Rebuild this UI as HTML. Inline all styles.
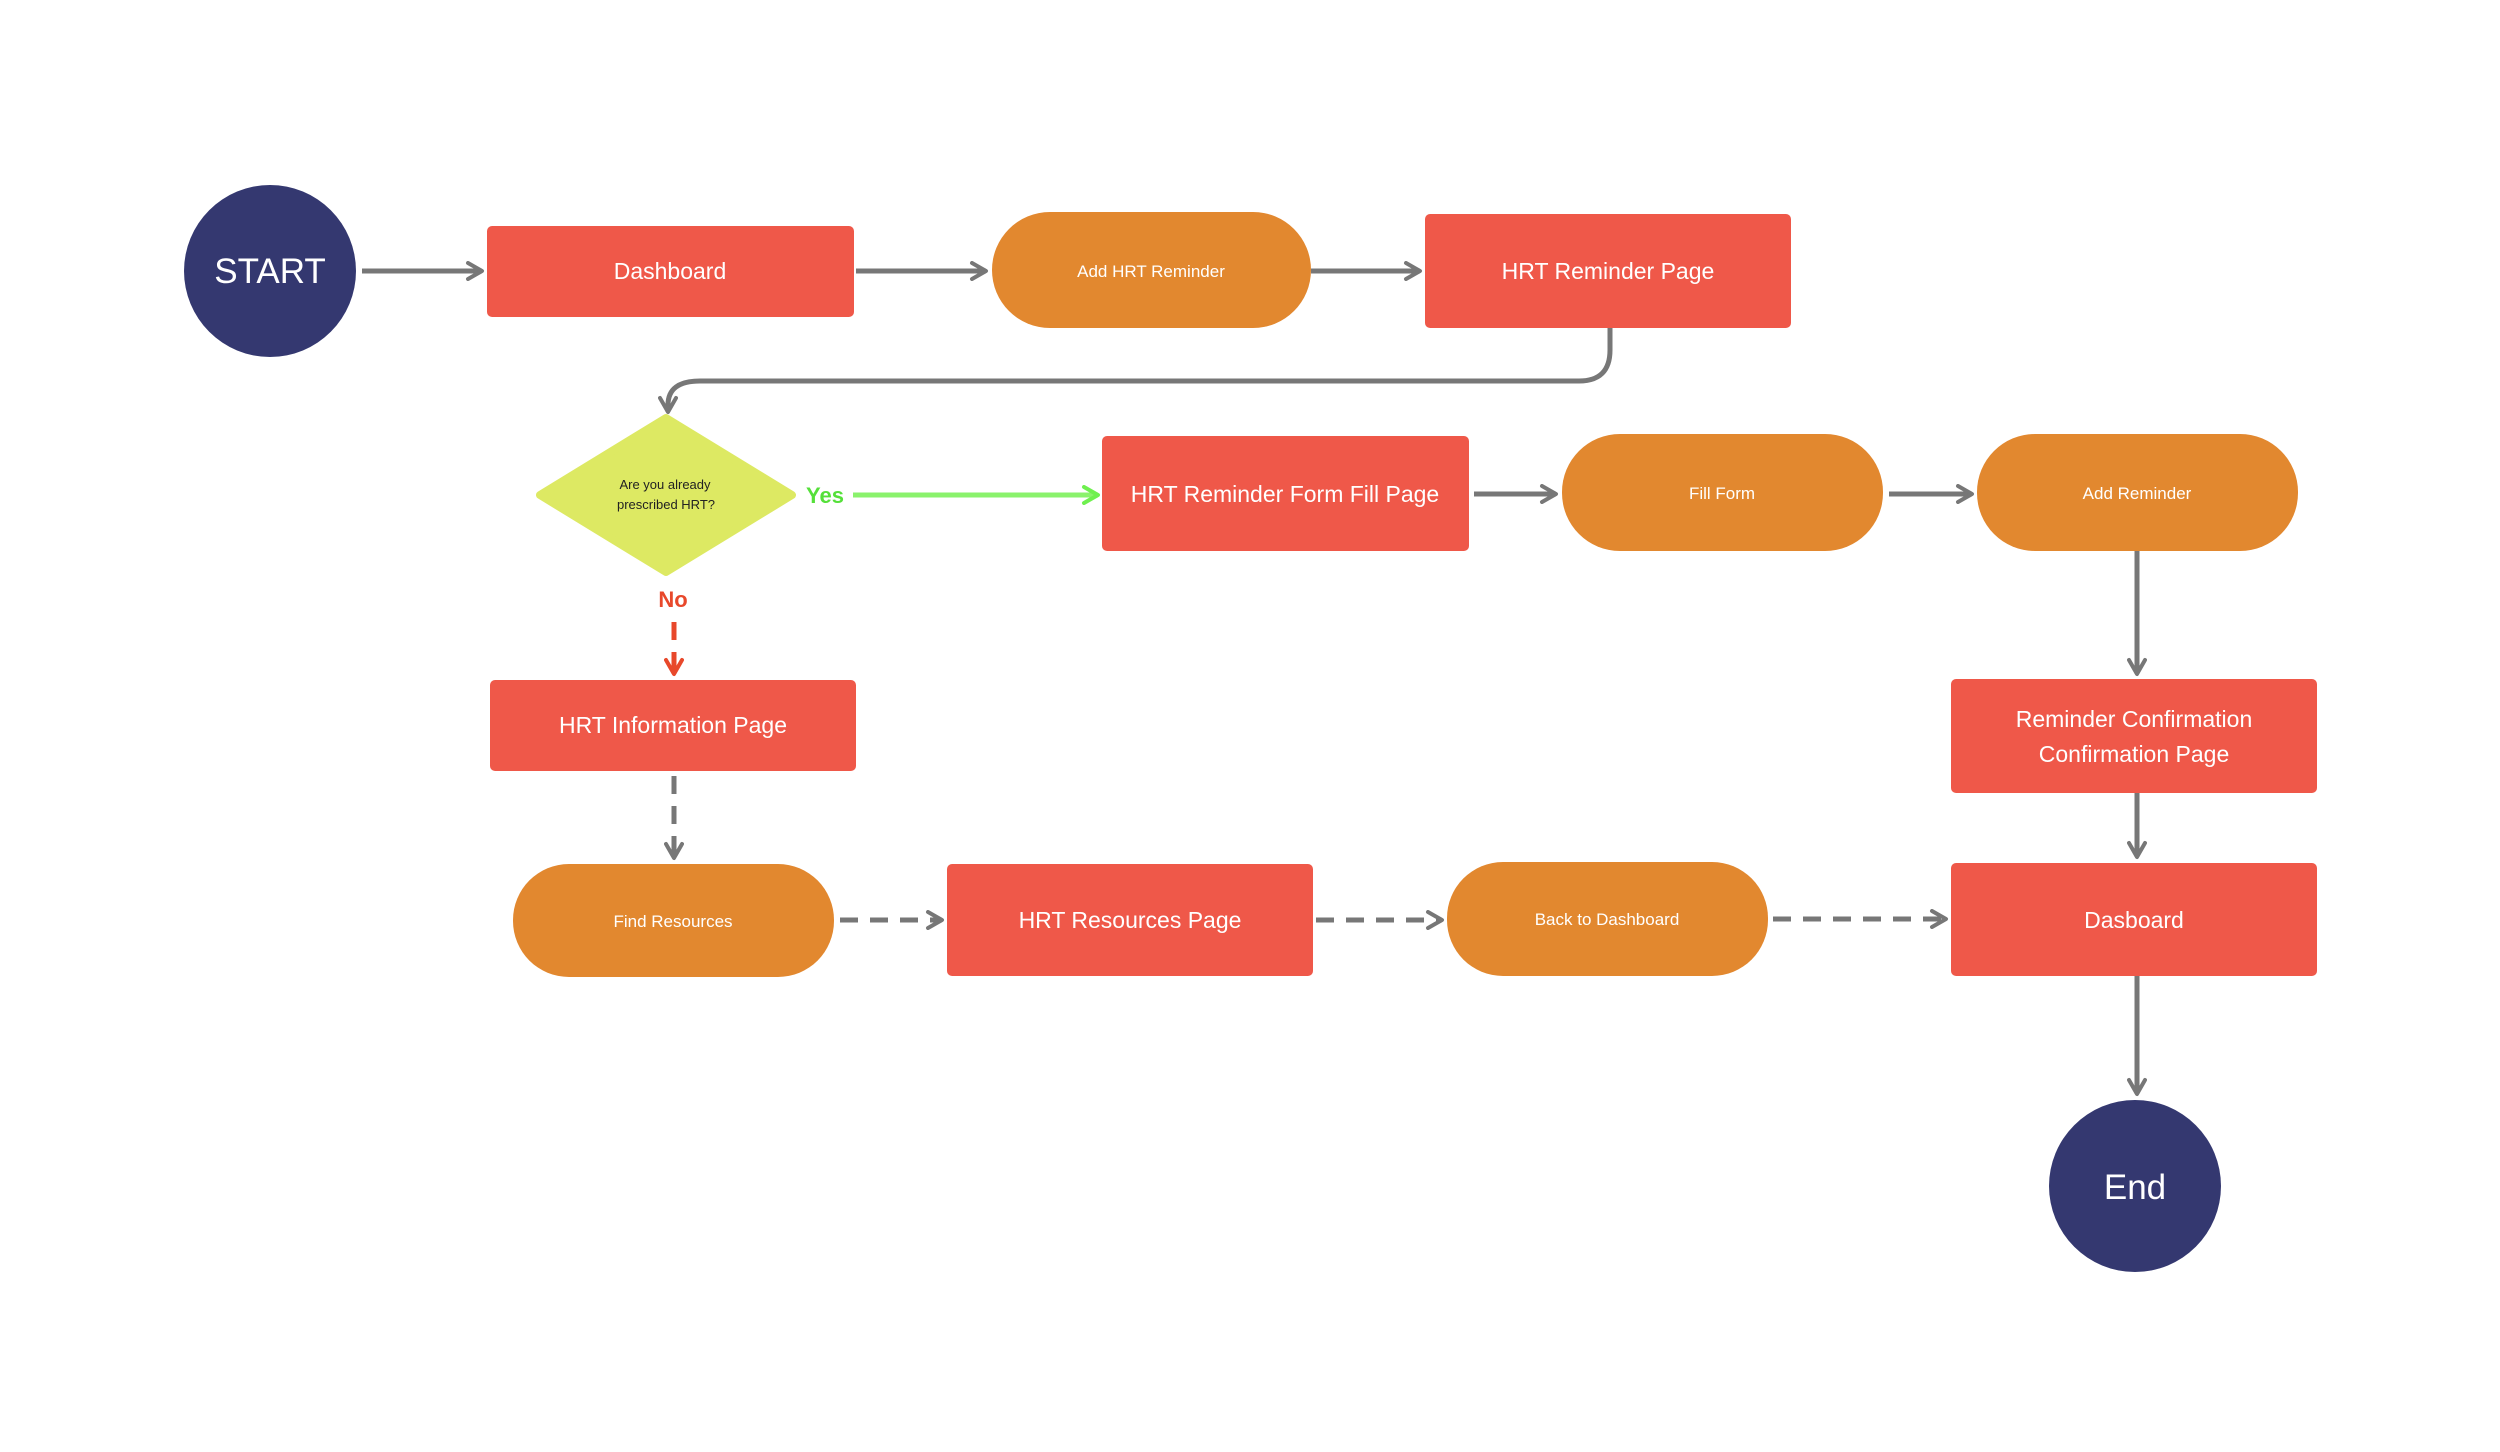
<!DOCTYPE html>
<html><head><meta charset="utf-8"><style>
html,body{margin:0;padding:0;background:#fff;}
svg{display:block;}
text{font-family:"Liberation Sans",sans-serif;}
</style></head><body>
<svg width="2500" height="1452" viewBox="0 0 2500 1452" xmlns="http://www.w3.org/2000/svg">
<defs>
<marker id="ag" viewBox="0 0 20 20" refX="17" refY="10" markerWidth="20" markerHeight="20" markerUnits="userSpaceOnUse" orient="auto"><path d="M3 2 L17 10 L3 18" fill="none" stroke="#777" stroke-width="4" stroke-linecap="round" stroke-linejoin="round"/></marker>
<marker id="agr" viewBox="0 0 20 20" refX="17" refY="10" markerWidth="20" markerHeight="20" markerUnits="userSpaceOnUse" orient="auto"><path d="M3 2 L17 10 L3 18" fill="none" stroke="#6ff04f" stroke-width="4" stroke-linecap="round" stroke-linejoin="round"/></marker>
<marker id="ar" viewBox="0 0 20 20" refX="17" refY="10" markerWidth="20" markerHeight="20" markerUnits="userSpaceOnUse" orient="auto"><path d="M3 2 L17 10 L3 18" fill="none" stroke="#e8482b" stroke-width="4" stroke-linecap="round" stroke-linejoin="round"/></marker>
</defs>
<g stroke="#777" stroke-width="5" fill="none">
<line x1="362" y1="271" x2="482" y2="271" marker-end="url(#ag)"/>
<line x1="856" y1="271" x2="986" y2="271" marker-end="url(#ag)"/>
<line x1="1311" y1="271" x2="1420" y2="271" marker-end="url(#ag)"/>
<path d="M1610 327 V350 Q1610 381 1579 381 H700 Q668 381 668 405 V412" marker-end="url(#ag)"/>
<line x1="1474" y1="494" x2="1556" y2="494" marker-end="url(#ag)"/>
<line x1="1889" y1="494" x2="1972" y2="494" marker-end="url(#ag)"/>
<line x1="2137" y1="551" x2="2137" y2="674" marker-end="url(#ag)"/>
<line x1="2137" y1="792" x2="2137" y2="857" marker-end="url(#ag)"/>
<line x1="2137" y1="976" x2="2137" y2="1094" marker-end="url(#ag)"/>
<line x1="674" y1="776" x2="674" y2="858" stroke-dasharray="18 12" marker-end="url(#ag)"/>
<line x1="840" y1="920" x2="942" y2="920" stroke-dasharray="18 12" marker-end="url(#ag)"/>
<line x1="1316" y1="920" x2="1442" y2="920" stroke-dasharray="18 12" marker-end="url(#ag)"/>
<line x1="1773" y1="919" x2="1946" y2="919" stroke-dasharray="18 12" marker-end="url(#ag)"/>
</g>
<line x1="853" y1="495" x2="1098" y2="495" stroke="#8af26c" stroke-width="5" marker-end="url(#agr)"/>
<line x1="674" y1="622" x2="674" y2="640" stroke="#e8482b" stroke-width="5"/>
<line x1="674" y1="652" x2="674" y2="674" stroke="#e8482b" stroke-width="5" marker-end="url(#ar)"/>
<circle cx="270" cy="271" r="86" fill="#343870"/>
<text x="270" y="283" fill="#fff" font-size="35" text-anchor="middle">START</text>
<circle cx="2135" cy="1186" r="86" fill="#343870"/>
<text x="2135" y="1199" fill="#fff" font-size="35" text-anchor="middle">End</text>
<g fill="#ef5849">
<rect x="487" y="226" width="367" height="91" rx="5"/>
<rect x="1425" y="214" width="366" height="114" rx="5"/>
<rect x="1102" y="436" width="367" height="115" rx="5"/>
<rect x="490" y="680" width="366" height="91" rx="5"/>
<rect x="947" y="864" width="366" height="112" rx="5"/>
<rect x="1951" y="679" width="366" height="114" rx="5"/>
<rect x="1951" y="863" width="366" height="113" rx="5"/>
</g>
<g fill="#e2882f">
<rect x="992" y="212" width="319" height="116" rx="58"/>
<rect x="1562" y="434" width="321" height="117" rx="58"/>
<rect x="1977" y="434" width="321" height="117" rx="58"/>
<rect x="513" y="864" width="321" height="113" rx="56"/>
<rect x="1447" y="862" width="321" height="114" rx="56"/>
</g>
<path d="M666 418 L792 495 L666 572 L540 495 Z" fill="#dde963" stroke="#dde963" stroke-width="8" stroke-linejoin="round"/>
<g fill="#fff" font-size="23" text-anchor="middle">
<text x="670" y="279">Dashboard</text>
<text x="1608" y="279">HRT Reminder Page</text>
<text x="1285" y="502">HRT Reminder Form Fill Page</text>
<text x="673" y="733">HRT Information Page</text>
<text x="1130" y="928">HRT Resources Page</text>
<text x="2134" y="727">Reminder Confirmation</text>
<text x="2134" y="762">Confirmation Page</text>
<text x="2134" y="928">Dasboard</text>
</g>
<g fill="#fff" font-size="17" text-anchor="middle">
<text x="1151" y="277">Add HRT Reminder</text>
<text x="1722" y="499">Fill Form</text>
<text x="2137" y="499">Add Reminder</text>
<text x="673" y="927">Find Resources</text>
<text x="1607" y="925">Back to Dashboard</text>
</g>
<g fill="#222" font-size="13" text-anchor="middle">
<text x="665" y="489">Are you already</text>
<text x="666" y="509">prescribed HRT?</text>
</g>
<text x="825" y="503" fill="#55e03a" font-size="22" font-weight="bold" text-anchor="middle">Yes</text>
<text x="673" y="607" fill="#e8482b" font-size="22" font-weight="bold" text-anchor="middle">No</text>
</svg>
</body></html>
